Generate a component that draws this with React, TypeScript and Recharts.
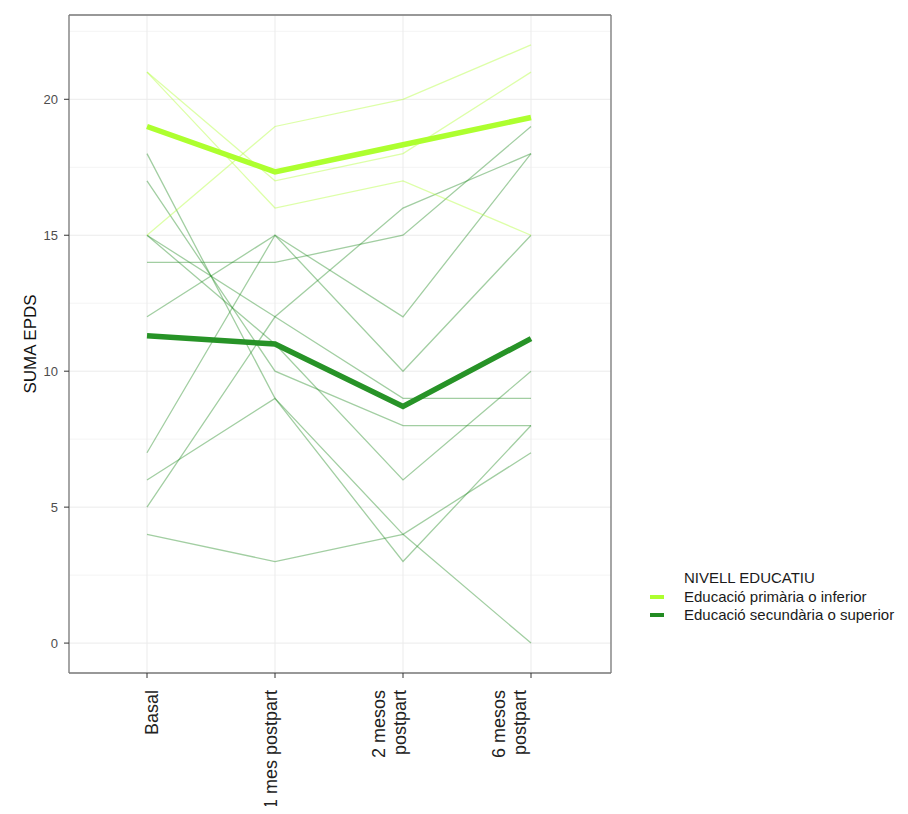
import React from 'react'
import { CartesianGrid, Label, Line, LineChart, XAxis, YAxis } from 'recharts'

const times = ['Basal', '1 mes postpart', '2 mesos postpart', '6 mesos postpart']
const timeLabelLines = [['Basal'], ['1 mes postpart'], ['2 mesos', 'postpart'], ['6 mesos', 'postpart']]

// individual EPDS trajectories
const primaria = [
  [15, 19, 20, 22],
  [21, 17, 18, 21],
  [21, 16, 17, 15],
]
const secundaria = [
  [18, 9, 4, 0],
  [17, 10, 8, 8],
  [15, 12, 9, 9],
  [15, 11, 6, 10],
  [14, 14, 15, 19],
  [12, 15, 12, 18],
  [7, 15, 10, 15],
  [6, 9, 3, 8],
  [5, 12, 16, 18],
  [4, 3, 4, 7],
]
// group means
const mitjanaPrimaria = [19, 17.33, 18.33, 19.33]
const mitjanaSecundaria = [11.3, 11.0, 8.7, 11.2]

const yTicks = [0, 5, 10, 15, 20]
const yMinorTicks = [2.5, 7.5, 12.5, 17.5, 22.5]
const legendItems = ['Educació primària o inferior', 'Educació secundària o superior']

const rows = times.map((time, i) => {
  const row: Record<string, string | number> = { time }
  primaria.forEach((s, k) => { row['p' + k] = s[i] })
  secundaria.forEach((s, k) => { row['s' + k] = s[i] })
  row.pMean = mitjanaPrimaria[i]
  row.sMean = mitjanaSecundaria[i]
  return row
})

const font = '"Liberation Sans", Arial, sans-serif'
const light = '#adff2f'
const dark = '#228b22'
const darkMean = '#279327'
const domain: [number, number] = [-1.1, 23.1]
const border = '#7a7a7a'

// shift of first text line (px), measured per label
const labelShift = [5, -4, -24, -32]

const XTick = (props: any) => {
  const { x, y, payload } = props
  const idx = times.indexOf(payload.value)
  const lines = timeLabelLines[idx] || [payload.value]
  return (
    <g transform={`translate(${x},${y})`}>
      {lines.map((l, j) => (
        <text
          key={j}
          transform="rotate(-90)"
          x={0}
          y={labelShift[idx] + j * 21}
          dy="0.35em"
          textAnchor="end"
          fontSize={18}
          fontFamily={font}
          fill="#222"
        >
          {l}
        </text>
      ))}
    </g>
  )
}

const YTitle = (p: any) => {
  const vb = p.viewBox
  const cx = vb.x + 30
  const cy = vb.y + vb.height / 2
  return (
    <text
      x={cx}
      y={cy}
      transform={`rotate(-90, ${cx}, ${cy})`}
      textAnchor="middle"
      dominantBaseline="central"
      fontSize={17}
      fontFamily={font}
      fill="#111"
    >
      SUMA EPDS
    </text>
  )
}

export default function App() {
  return (
    <div style={{ position: 'relative', width: 908, height: 814, margin: -8, overflow: 'hidden', fontFamily: font }}>
      <LineChart width={908} height={814} data={rows} margin={{ top: 14, right: 296, bottom: 0, left: 0 }}>
        <CartesianGrid yAxisId="minor" vertical={false} stroke="#f4f4f4" />
        <CartesianGrid stroke="#ebebeb" />
        <XAxis
          dataKey="time"
          type="category"
          interval={0}
          padding={{ left: 78, right: 80 }}
          height={141}
          tickSize={5}
          tickMargin={12}
          tick={<XTick />}
          axisLine={{ stroke: border, strokeWidth: 1.3 }}
          tickLine={{ stroke: '#333' }}
        />
        <XAxis
          xAxisId="top"
          dataKey="time"
          orientation="top"
          height={1}
          tick={false}
          tickLine={false}
          axisLine={{ stroke: border, strokeWidth: 1.3 }}
        />
        <YAxis
          type="number"
          width={69}
          domain={domain}
          ticks={yTicks}
          interval={0}
          allowDataOverflow
          tickSize={5}
          tickMargin={6}
          tick={{ fill: '#4d4d4d', fontSize: 13, fontFamily: font }}
          axisLine={{ stroke: border, strokeWidth: 1.3 }}
          tickLine={{ stroke: '#333' }}
        >
          <Label content={YTitle} />
        </YAxis>
        <YAxis yAxisId="minor" type="number" hide domain={domain} ticks={yMinorTicks} interval={0} allowDataOverflow />
        <YAxis
          yAxisId="right"
          orientation="right"
          type="number"
          width={1}
          domain={domain}
          ticks={yTicks}
          allowDataOverflow
          tick={false}
          tickLine={false}
          axisLine={{ stroke: border, strokeWidth: 1.3 }}
        />
        {secundaria.map((_, k) => (
          <Line
            key={'s' + k}
            dataKey={'s' + k}
            type="linear"
            stroke={dark}
            strokeOpacity={0.42}
            strokeWidth={1.3}
            dot={false}
            activeDot={false}
            isAnimationActive={false}
          />
        ))}
        {primaria.map((_, k) => (
          <Line
            key={'p' + k}
            dataKey={'p' + k}
            type="linear"
            stroke={light}
            strokeOpacity={0.42}
            strokeWidth={1.3}
            dot={false}
            activeDot={false}
            isAnimationActive={false}
          />
        ))}
        <Line dataKey="pMean" type="linear" stroke={light} strokeWidth={5.5} dot={false} activeDot={false} isAnimationActive={false} />
        <Line dataKey="sMean" type="linear" stroke={darkMean} strokeWidth={5.5} dot={false} activeDot={false} isAnimationActive={false} />
      </LineChart>
      <div
        style={{
          position: 'absolute',
          left: 650,
          top: 569,
          whiteSpace: 'nowrap',
          fontSize: 15,
          color: '#1a1a1a',
          lineHeight: '18.5px',
        }}
      >
        <div style={{ paddingLeft: 34 }}>NIVELL EDUCATIU</div>
        {legendItems.map((name, i) => (
          <div key={name} style={{ display: 'flex', alignItems: 'center', height: 18.5 }}>
            <span style={{ display: 'inline-block', flex: 'none', width: 14, height: 4, background: i === 0 ? light : dark, marginRight: 20 }} />
            <span>{name}</span>
          </div>
        ))}
      </div>
    </div>
  )
}
